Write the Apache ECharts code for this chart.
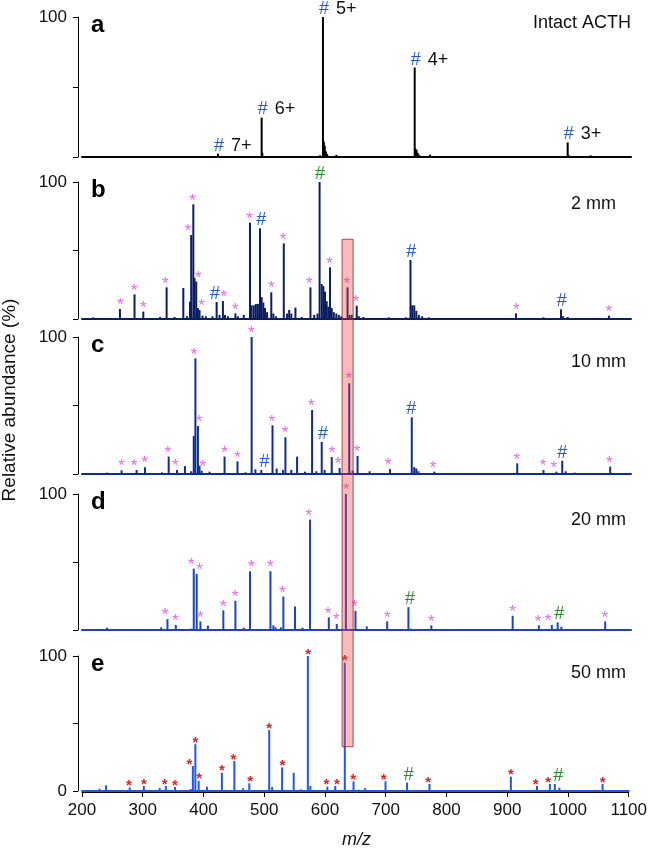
<!DOCTYPE html>
<html>
<head>
<meta charset="utf-8">
<script src="https://cdn.jsdelivr.net/npm/echarts@6/dist/echarts.min.js"></script>
<style>
html,body{margin:0;padding:0;background:#fff;}
#chart{width:650px;height:851px;}
</style>
</head>
<body>
<div id="chart"></div>
<script>
// ---------------- DATA ----------------
// x axis (m/z)
const xMin = 200, xMax = 1100, xStep = 100;
const yTicks = [0, 50, 100];

// Panel a: Intact ACTH
const mzA = [422.8, 494.5, 495.6, 590, 595, 596.5, 598, 600, 602, 617, 745.4, 746.8, 748.5, 750.5, 753, 770.6, 996.2, 997.5, 1033.7];
const abA = [2.4, 28.2, 3, 1.2, 100, 11, 8, 4, 2, 1.5, 63.9, 6, 5, 3, 1.5, 1.7, 10.4, 1.5, 1.2];
const chargeMzA = [422.8, 494.5, 595, 745.4, 996.2];
const chargeAbA = [2.4, 28.2, 100, 63.9, 10.4];
const chargeTxtA = ['7+', '6+', '5+', '4+', '3+'];

// Panel b: 2 mm
const mzB = [218.5, 262.2, 286.1, 300.5, 327.8, 338.7, 351.7, 366.1, 372.2, 377.0, 379.0, 382.5, 384.5, 387.3, 390, 392.7, 397.5, 403, 413.9, 420.7, 425.5, 431.0, 434.4, 439.2, 451.5, 455.6, 465.2, 475.4, 478.1, 481.6, 485, 488.4, 491.8, 494.5, 497.3, 500, 503.4, 510.3, 513.7, 517.8, 530.8, 536.2, 539.6, 543.1, 549.9, 560.2, 574.5, 580.7, 586.1, 589.5, 593, 595.7, 598.4, 601.1, 603.9, 606.6, 609.4, 612.8, 616.9, 621, 625.1, 635.3, 638.7, 642.2, 650.4, 653.8, 661.3, 703, 731, 738.5, 741.3, 744.7, 748.1, 752.2, 757.7, 768.6, 911.4, 956.5, 985.2, 988.6, 996.2, 1063.8];
const abB = [1.2, 7.3, 18.0, 5.4, 1.5, 23.1, 1.5, 22.6, 2, 12.7, 61.3, 83.7, 30, 27.3, 8, 6.6, 2.5, 2, 2.0, 12.4, 3, 13.1, 3, 2, 4.1, 2, 3, 70.3, 10, 10, 11, 11, 66.2, 16, 12, 8, 5, 19.5, 4, 2, 55.2, 4, 6.6, 4, 8.3, 1.5, 23.1, 3, 4, 100, 25.5, 24, 20, 13, 9, 37.7, 8, 5, 4, 3, 2, 23.1, 3, 3, 9.7, 2, 1.5, 1.2, 1.2, 43.1, 10, 10, 6, 3, 2, 1.2, 4.1, 1.2, 7.1, 2, 1.5, 2.4];
const starMzB = [262.9, 285.4, 300.5, 336.7, 373.6, 381.1, 390.7, 396.1, 432.4, 451.5, 474.7, 510.3, 529.4, 572.5, 606.0, 634.0, 649.0, 912.1, 1063.8];
const starAbB = [7.3, 18, 5.4, 23.1, 61.3, 83.7, 27.3, 6.6, 13.1, 4.1, 70.3, 19.5, 55.2, 23.1, 37.7, 23.1, 9.7, 4.1, 2.4];
const hashBlueMzB = [418, 493.9, 739.9, 986.6];
const hashBlueAbB = [12.4, 66.2, 43.1, 7.1];
const hashGreenMzB = [590.2];
const hashGreenAbB = [100];

// Panel c: 10 mm
const mzC = [241, 264.9, 289.5, 303.2, 331.2, 342.1, 355.8, 368.8, 379, 383.2, 385.9, 390, 392.7, 396.1, 409.1, 433.7, 454.9, 467.9, 478.1, 484.3, 493.9, 512.3, 519.1, 529.4, 533.5, 543.1, 552.6, 565.6, 577.2, 584.1, 593, 597.7, 609.4, 622.3, 638.1, 643.6, 651.7, 671.5, 705, 740.6, 744.7, 748.1, 751.5, 777.5, 913.5, 956.5, 977.7, 987.3, 992.8, 1007.8, 1065.9];
const abC = [1, 2.7, 2.9, 4.9, 1.2, 12.7, 2.9, 5.8, 2, 27.7, 84.4, 35, 6, 2.4, 1.7, 12.7, 9.2, 1.2, 100, 3.4, 2.9, 35.5, 4, 3, 26.8, 3, 12.7, 1.7, 46.7, 2, 23.4, 3, 12.4, 4.4, 66.2, 2.5, 13.1, 2, 3.6, 41.4, 5, 4, 2, 1.7, 7.8, 2.9, 1.7, 9.7, 2, 1, 5.4];
const starMzC = [264.9, 285.4, 302.5, 340.8, 353.1, 383.8, 392, 398.2, 433.7, 454.9, 477.5, 511, 532.8, 575.9, 609.4, 619.6, 637.4, 651, 701.6, 775.4, 912.8, 955.9, 973.6, 1064.5];
const starAbC = [2.7, 2.9, 4.9, 12.7, 2.9, 84.4, 35, 2.4, 12.7, 9.2, 100, 35.5, 26.8, 46.7, 12.4, 4.4, 66.2, 13.1, 3.6, 1.7, 7.8, 2.9, 1.7, 5.4];
const hashBlueMzC = [499.3, 595, 739.9, 987.3];
const hashBlueAbC = [2.9, 23.4, 41.4, 9.7];

// Panel d: 20 mm
const mzD = [241, 303.9, 329.8, 340.1, 353.8, 379, 383.2, 388, 394.1, 406.4, 431.7, 451.5, 465.2, 475.4, 508.9, 513.7, 517.1, 526, 530.1, 549.2, 561.5, 573.8, 604.6, 617.6, 632.6, 648.3, 666.8, 672.9, 700.3, 735.1, 739.2, 772.7, 859.5, 906, 949, 970.2, 979.8, 985.9, 1057.7];
const abD = [1.7, 0.7, 2, 8, 3.7, 1, 45.1, 41.2, 6.3, 3.2, 14.4, 21.5, 1.7, 43.2, 43.2, 3.4, 2, 2, 24.6, 17.3, 1.7, 81.2, 9.3, 4.4, 100, 14.1, 2.7, 0.7, 6.3, 16.8, 1, 3.4, 0.5, 10.5, 3.4, 3.7, 5.6, 2.4, 6.3];
const starMzD = [336, 353.1, 379, 392.7, 394.1, 431.7, 450.8, 477.5, 508.9, 528.7, 571.8, 603.2, 616.9, 633.3, 647, 700.3, 772.7, 906, 947.6, 964, 1057];
const starAbD = [8, 3.7, 45.1, 41.2, 6.3, 14.4, 21.5, 43.2, 43.2, 24.6, 81.2, 9.3, 4.4, 100, 14.1, 6.3, 3.4, 10.5, 3.4, 3.7, 6.3];
const hashGreenMzD = [737.8, 982.5];
const hashGreenAbD = [16.8, 5.6];

// Panel e: 50 mm
const mzE = [228.7, 239.6, 278.6, 301.8, 327.8, 338, 353.1, 379, 382.5, 386.6, 392, 405.7, 430.3, 450.8, 465.2, 475.4, 508.2, 513, 529.4, 548.5, 560.2, 571.8, 575.9, 603.9, 616.9, 632.6, 647, 655.8, 666.1, 699.6, 735.1, 772, 858.8, 906, 949, 970.2, 978.4, 985.9, 1057];
const abE = [1.7, 4.2, 2.7, 3.7, 2.2, 3.7, 3, 1.5, 18.5, 34.7, 7.6, 3.2, 13.5, 22.2, 2, 5.7, 45.1, 3, 17.5, 13.5, 1.2, 100, 3.7, 3.2, 3.7, 95, 7.1, 1, 2, 7.1, 6.2, 5.2, 0.7, 10.6, 3.7, 5.2, 5.2, 2.5, 5.2];
const starMzE = [277.2, 301.8, 336, 353.1, 377, 386.6, 392.7, 430.3, 449.4, 476.8, 508.2, 530.1, 572.5, 602.5, 619.6, 632.6, 646.3, 696.8, 770, 906, 947, 967.5, 1057];
const starAbE = [2.7, 3.7, 3.7, 3, 18.5, 34.7, 7.6, 13.5, 22.2, 5.7, 45.1, 17.5, 100, 3.2, 3.7, 95, 7.1, 7.1, 5.2, 10.6, 3.7, 5.2, 5.2];
const hashGreenMzE = [737.8, 983.9];
const hashGreenAbE = [6.2, 5.2];

// Highlight box (m/z range; top in panel b units, bottom in panel e units)
const hlMz = [626.4, 646.3];
const hlTopB = 58.2;
const hlBottomE = 32.8;

const panelLetters = ['a', 'b', 'c', 'd', 'e'];
const panelTitles = ['Intact ACTH', '2 mm', '10 mm', '20 mm', '50 mm'];

// ---------------- STYLE / LAYOUT ----------------
const FONT = '"Liberation Sans", Arial, Helvetica, sans-serif';
const colors = ['#000000', '#0b1d63', '#0c2c9e', '#1943cf', '#1f56f5'];
const gridTop = [17, 182, 337, 494, 656];
const gridH = [140, 137, 137, 136, 135];
const GL = 82, GR = 19;
const PINK = '#ee66ee', BLUEH = '#2456e6', GREENH = '#2a8c2a', RED = '#e8201c';

const panels = [
  { mz: mzA, ab: abA, ann: [] },
  { mz: mzB, ab: abB, ann: [
      { mz: starMzB, ab: starAbB, g: '*', c: PINK },
      { mz: hashBlueMzB, ab: hashBlueAbB, g: '#', c: BLUEH },
      { mz: hashGreenMzB, ab: hashGreenAbB, g: '#', c: GREENH } ] },
  { mz: mzC, ab: abC, ann: [
      { mz: starMzC, ab: starAbC, g: '*', c: PINK },
      { mz: hashBlueMzC, ab: hashBlueAbC, g: '#', c: BLUEH } ] },
  { mz: mzD, ab: abD, ann: [
      { mz: starMzD, ab: starAbD, g: '*', c: PINK },
      { mz: hashGreenMzD, ab: hashGreenAbD, g: '#', c: GREENH } ] },
  { mz: mzE, ab: abE, ann: [
      { mz: starMzE, ab: starAbE, g: '*', c: RED, small: true },
      { mz: hashGreenMzE, ab: hashGreenAbE, g: '#', c: GREENH } ] }
];

const chart = echarts.init(document.getElementById('chart'), null, { renderer: 'canvas' });

const grids = [], xAxes = [], yAxes = [], series = [];
panels.forEach((p, i) => {
  const last = i === 4;
  grids.push({ left: GL, right: GR, top: gridTop[i], height: gridH[i], containLabel: false });
  xAxes.push({
    type: 'value', gridIndex: i, min: xMin, max: xMax, interval: xStep,
    offset: last ? 1 : 0,
    axisLine: { show: true, onZero: false, lineStyle: { color: last ? '#000' : colors[i], width: last ? 1 : 2 } },
    axisTick: { show: last, length: 5, lineStyle: { color: '#000' } },
    axisLabel: { show: last, fontFamily: FONT, fontSize: 17, color: '#111', margin: 10, formatter: v => String(v) },
    splitLine: { show: false }
  });
  yAxes.push({
    type: 'value', gridIndex: i, min: yTicks[0], max: yTicks[2], interval: 50,
    offset: 4,
    axisLine: { show: true, lineStyle: { color: '#000', width: 1 } },
    axisTick: { show: true, length: 5, lineStyle: { color: '#000' } },
    axisLabel: {
      show: true, fontFamily: FONT, fontSize: 17, color: '#111', margin: 11,
      formatter: v => (v === 100 || (last && v === 0)) ? String(v) : ''
    },
    splitLine: { show: false }
  });
  // sticks
  series.push({
    type: 'custom', xAxisIndex: i, yAxisIndex: i, z: 3,
    data: p.mz.map((m, k) => [m, p.ab[k]]),
    encode: { x: 0, y: 1 },
    renderItem: (params, api) => {
      const p0 = api.coord([api.value(0), 0]);
      const p1 = api.coord([api.value(0), api.value(1)]);
      return { type: 'line', shape: { x1: p0[0], y1: p0[1], x2: p1[0], y2: p1[1] },
        style: { stroke: colors[i], lineWidth: 2 } };
    }
  });
  // annotations
  p.ann.forEach(a => {
    series.push({
      type: 'custom', xAxisIndex: i, yAxisIndex: i, z: 4, clip: false,
      data: a.mz.map((m, k) => [m, a.ab[k]]),
      encode: { x: 0, y: 1 },
      renderItem: (params, api) => {
        const pt = api.coord([api.value(0), api.value(1)]);
        if (a.g === '*') {
          const fs = a.small ? 15 : 17;
          return { type: 'text', x: pt[0], y: pt[1] - (a.small ? 1.5 : 3.5),
            style: { text: '*', fill: a.c, font: (a.small ? 'bold ' : '') + fs + 'px ' + FONT, align: 'center', verticalAlign: 'middle' } };
        }
        return { type: 'text', x: pt[0], y: pt[1] + 1,
          style: { text: '#', fill: a.c, font: '18px ' + FONT, align: 'center', verticalAlign: 'bottom' } };
      }
    });
  });
});

// panel a charge-state labels
series.push({
  type: 'custom', xAxisIndex: 0, yAxisIndex: 0, z: 4, clip: false,
  data: chargeMzA.map((m, k) => [m, chargeAbA[k]]),
  encode: { x: 0, y: 1 },
  renderItem: (params, api) => {
    const pt = api.coord([api.value(0), api.value(1)]);
    return { type: 'group', children: [
      { type: 'text', x: pt[0] + 1, y: pt[1] + 1,
        style: { text: '#', fill: BLUEH, font: '18px ' + FONT, align: 'center', verticalAlign: 'bottom' } },
      { type: 'text', x: pt[0] + 13, y: pt[1] + 1,
        style: { text: chargeTxtA[params.dataIndex], fill: '#111', font: '18px ' + FONT, align: 'left', verticalAlign: 'bottom' } }
    ] };
  }
});

// e blue baseline as extra x axis
xAxes.push({
  type: 'value', gridIndex: 4, min: xMin, max: xMax, interval: xStep, position: 'bottom',
  axisLine: { show: true, onZero: false, lineStyle: { color: colors[4], width: 2 } },
  axisTick: { show: false }, axisLabel: { show: false }, splitLine: { show: false }
});

chart.setOption({
  animation: false,
  backgroundColor: '#fff',
  grid: grids, xAxis: xAxes, yAxis: yAxes, series: series
});

// texts and highlight box
const graphics = [];
panelLetters.forEach((L, i) => {
  graphics.push({ type: 'text', x: 91, y: gridTop[i] + 20, z: 10,
    style: { text: L, font: 'bold 24px ' + FONT, fill: '#000', align: 'left', verticalAlign: 'bottom' } });
});
const titleY = [23, 204, 362, 520, 673];
panelTitles.forEach((t, i) => {
  graphics.push({ type: 'text', x: i === 0 ? 631 : 571, y: titleY[i], z: 10,
    style: { text: t, font: '18px ' + FONT, fill: '#111', align: i === 0 ? 'right' : 'left', verticalAlign: 'middle' } });
});
graphics.push({ type: 'text', x: 10, y: 400, rotation: Math.PI / 2, z: 10,
  style: { text: 'Relative abundance (%)', font: '19px ' + FONT, fill: '#111', align: 'center', verticalAlign: 'middle' } });
graphics.push({ type: 'text', x: (GL + 650 - GR) / 2, y: 840, z: 10,
  style: { text: 'm/z', font: 'italic 18px ' + FONT, fill: '#111', align: 'center', verticalAlign: 'middle' } });

const pTop = chart.convertToPixel({ xAxisIndex: 1, yAxisIndex: 1 }, [hlMz[0], hlTopB]);
const pBot = chart.convertToPixel({ xAxisIndex: 4, yAxisIndex: 4 }, [hlMz[1], hlBottomE]);
graphics.push({ type: 'rect', z: 20,
  shape: { x: pTop[0], y: pTop[1], width: pBot[0] - pTop[0], height: pBot[1] - pTop[1] },
  style: { fill: 'rgba(240,60,60,0.35)', stroke: 'rgba(150,50,50,0.85)', lineWidth: 1 } });

chart.setOption({ graphic: graphics });
</script>
</body>
</html>
